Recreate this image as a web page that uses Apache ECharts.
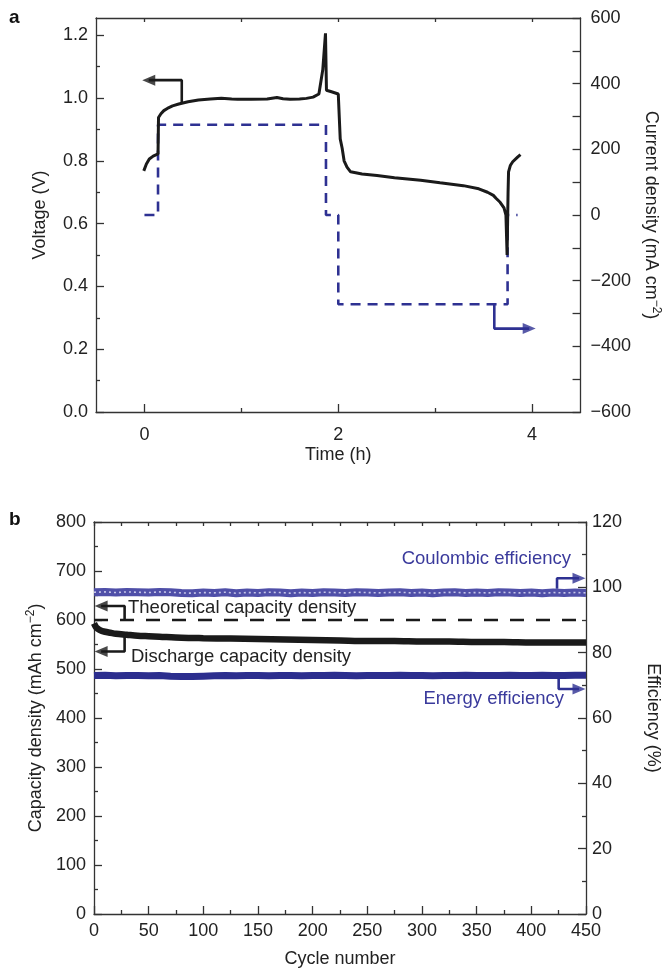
<!DOCTYPE html>
<html>
<head>
<meta charset="utf-8">
<script src="https://cdn.jsdelivr.net/npm/echarts@6/dist/echarts.min.js"></script>
<style>
html,body{margin:0;padding:0;background:#fff;}
#main{width:670px;height:969px;}
</style>
</head>
<body>
<div id="main"></div>
<script>
// ---------- Panel a data ----------
var voltTime = [-0.007, 0.02, 0.05, 0.09, 0.14, 0.145, 0.17, 0.2, 0.236, 0.29, 0.354, 0.45, 0.557, 0.68, 0.793, 0.9, 0.962, 1.1, 1.266, 1.367, 1.43, 1.502, 1.6, 1.671, 1.74, 1.80, 1.84, 1.868, 1.878, 1.93, 2.0, 2.02, 2.04, 2.06, 2.09, 2.127, 2.18, 2.245, 2.4, 2.58, 2.85, 3.05, 3.29, 3.45, 3.54, 3.6, 3.63, 3.67, 3.71, 3.73, 3.742, 3.752, 3.757, 3.775, 3.80, 3.85, 3.88];
var voltage = [0.768, 0.79, 0.806, 0.815, 0.822, 0.938, 0.950, 0.960, 0.967, 0.975, 0.981, 0.988, 0.994, 0.997, 0.999, 0.997, 0.996, 0.996, 0.997, 1.002, 0.998, 0.996, 0.997, 0.999, 1.003, 1.013, 1.09, 1.206, 1.025, 1.02, 1.013, 0.87, 0.84, 0.80, 0.78, 0.765, 0.762, 0.758, 0.753, 0.746, 0.738, 0.73, 0.721, 0.711, 0.700, 0.690, 0.680, 0.668, 0.650, 0.627, 0.50, 0.70, 0.765, 0.785, 0.797, 0.812, 0.82];
var currTime = [0, 0.14, 0.14, 1.873, 1.873, 2.0, 2.0, 3.747, 3.747, 3.85];
var current  = [0, 0, 275, 275, 0, 0, -272, -272, 0, 0];
var timeTicks = [0, 2, 4];
var timeMinorTicks = [1, 3];
var timeTopTicks = [0, 1, 2, 3, 4];
var voltTicks = [0, 0.2, 0.4, 0.6, 0.8, 1.0, 1.2];
var voltMinorTicks = [0.1, 0.3, 0.5, 0.7, 0.9, 1.1];
// annotation arrows (data units)
var voltArrowShaft = [[0.385, 0.985], [0.385, 1.057], [0.044, 1.057]];
var voltArrowHead = [[0.044, 1.057]];
var currArrowShaft = [[3.61, -272], [3.61, -346], [3.97, -346]];
var currArrowHead = [[3.97, -346]];

// ---------- Panel b data ----------
var dischCycle = [0, 2, 5, 10, 15, 20, 30, 40, 50, 60, 80, 100, 125, 150, 175, 200, 225, 250, 275, 300, 325, 350, 375, 400, 425, 450];
var dischCap   = [593, 585, 580, 576, 574, 572, 570, 568, 567, 566, 564, 563, 562, 561, 560, 559, 558, 557, 557, 556, 556, 555, 555, 554, 554, 554];
var theoCycle = [0, 450];
var theoCap = [600, 600];
var effCycle = [0,10,20,30,40,50,60,70,80,90,100,110,120,130,140,150,160,170,180,190,200,210,220,230,240,250,260,270,280,290,300,310,320,330,340,350,360,370,380,390,400,410,420,430,440,450];
var coulombic = [98.5,98.6,98.4,98.6,98.5,98.4,98.6,98.5,98.3,98.2,98.4,98.3,98.5,98.2,98.4,98.3,98.5,98.4,98.2,98.4,98.3,98.5,98.4,98.3,98.5,98.4,98.3,98.4,98.5,98.3,98.4,98.2,98.4,98.5,98.3,98.4,98.3,98.5,98.4,98.3,98.4,98.2,98.4,98.3,98.4,98.3];
var energy = [73.0,73.1,72.9,73.0,73.0,72.9,73.0,72.8,72.7,72.7,72.8,72.9,73.0,72.9,73.0,73.0,72.9,73.0,73.0,72.9,73.0,73.0,73.1,73.0,72.9,73.0,73.0,73.0,73.1,73.0,73.0,72.9,73.0,73.0,73.1,73.0,73.0,73.0,73.1,73.0,73.0,73.1,73.0,73.0,73.1,73.1];
var theoArrowShaft = [[28, 600], [28, 628.5], [6.5, 628.5]];
var dischArrowShaft = [[28, 571], [28, 535.6], [6.5, 535.6]];
var capArrowHeads = [[6.5, 628.5], [6.5, 535.6]];
var coulArrowShaft = [[423.5, 99.6], [423.5, 102.8], [443.6, 102.8]];
var energyArrowShaft = [[425, 72.0], [425, 68.9], [443.6, 68.9]];
var effArrowHeads = [[443.6, 102.8], [443.6, 68.9]];

function zip(a, b) { return a.map(function (v, i) { return [v, b[i]]; }); }

var FONT = 'Liberation Sans';
var TXT = '#222';
var AX = '#333';
var BLACK = '#1a1a1a';
var BLUE = '#2e3192';
var BLUE_TXT = '#3a3a9c';

var lblStyle = { color: TXT, fontSize: 18, fontFamily: FONT };
var axLine = { show: true, onZero: false, lineStyle: { color: AX, width: 1.3 } };
var noLine = { show: false, onZero: false };
var tickStyle = { color: AX, width: 1.3 };

var chart = echarts.init(document.getElementById('main'), null, { renderer: 'canvas' });

var supRich = {
  n: { color: TXT, fontSize: 18, fontFamily: FONT, lineHeight: 22 },
  s: { color: TXT, fontSize: 12, fontFamily: FONT, lineHeight: 22, verticalAlign: 'top', padding: [0, 0, 8, 0] }
};

var option = {
  animation: false,
  backgroundColor: '#fff',
  textStyle: { fontFamily: FONT },
  grid: [
    { left: 96, top: 18, width: 492, height: 394 },
    { left: 94, top: 522, width: 493, height: 393 }
  ],
  xAxis: [
    { // 0: time main
      type: 'value', gridIndex: 0, position: 'bottom', min: -0.5, max: 4.5,
      axisLine: axLine,
      axisTick: { show: true, inside: true, length: 8, customValues: timeTicks, lineStyle: tickStyle },
      axisLabel: Object.assign({ customValues: timeTicks, margin: 14 }, lblStyle),
      splitLine: { show: false },
      name: 'Time (h)', nameLocation: 'middle', nameGap: 34,
      nameTextStyle: lblStyle
    },
    { // 1: time minor ticks
      type: 'value', gridIndex: 0, position: 'bottom', min: -0.5, max: 4.5,
      axisLine: noLine,
      axisTick: { show: true, inside: true, length: 4, customValues: timeMinorTicks, lineStyle: tickStyle },
      axisLabel: { show: false }, splitLine: { show: false }
    },
    { // 2: time top frame
      type: 'value', gridIndex: 0, position: 'top', min: -0.5, max: 4.5,
      axisLine: axLine,
      axisTick: { show: true, inside: true, length: 4, customValues: timeTopTicks, lineStyle: tickStyle },
      axisLabel: { show: false }, splitLine: { show: false }
    },
    { // 3: cycle main
      type: 'value', gridIndex: 1, position: 'bottom', min: 0, max: 450, interval: 50,
      axisLine: axLine,
      axisTick: { show: true, inside: true, length: 8, lineStyle: tickStyle },
      minorTick: { show: true, splitNumber: 2, length: 4, lineStyle: tickStyle },
      axisLabel: Object.assign({ margin: 8 }, lblStyle),
      splitLine: { show: false }, minorSplitLine: { show: false },
      name: 'Cycle number', nameLocation: 'middle', nameGap: 36,
      nameTextStyle: lblStyle
    },
    { // 4: cycle top frame
      type: 'value', gridIndex: 1, position: 'top', min: 0, max: 450, interval: 25,
      axisLine: axLine,
      axisTick: { show: true, inside: true, length: 4, lineStyle: tickStyle },
      axisLabel: { show: false }, splitLine: { show: false }
    }
  ],
  yAxis: [
    { // 0: voltage
      type: 'value', gridIndex: 0, position: 'left', min: 0, max: 1.255,
      axisLine: axLine,
      axisTick: { show: true, inside: true, length: 8, customValues: voltTicks, lineStyle: tickStyle },
      axisLabel: Object.assign({ customValues: voltTicks, margin: 8, formatter: function (v) { return v.toFixed(1); } }, lblStyle),
      splitLine: { show: false },
      name: 'Voltage (V)', nameLocation: 'middle', nameGap: 47, nameRotate: 90,
      nameTextStyle: lblStyle
    },
    { // 1: voltage minor ticks
      type: 'value', gridIndex: 0, position: 'left', min: 0, max: 1.255,
      axisLine: noLine,
      axisTick: { show: true, inside: true, length: 4, customValues: voltMinorTicks, lineStyle: tickStyle },
      axisLabel: { show: false }, splitLine: { show: false }
    },
    { // 2: current density
      type: 'value', gridIndex: 0, position: 'right', min: -600, max: 600, interval: 200,
      axisLine: axLine,
      axisTick: { show: true, inside: true, length: 8, lineStyle: tickStyle },
      minorTick: { show: true, splitNumber: 2, length: 8, lineStyle: tickStyle },
      axisLabel: Object.assign({ margin: 10, formatter: function (v) { return String(v).replace('-', '\u2212'); } }, lblStyle),
      splitLine: { show: false }, minorSplitLine: { show: false },
      name: '{n|Current density (mA cm}{s|\u22122}{n|)}', nameLocation: 'middle', nameGap: 58, nameRotate: -90,
      nameTextStyle: { color: TXT, fontSize: 18, fontFamily: FONT, rich: supRich }
    },
    { // 3: capacity density
      type: 'value', gridIndex: 1, position: 'left', min: 0, max: 800, interval: 100,
      axisLine: axLine,
      axisTick: { show: true, inside: true, length: 8, lineStyle: tickStyle },
      minorTick: { show: true, splitNumber: 2, length: 4, lineStyle: tickStyle },
      axisLabel: Object.assign({ margin: 8 }, lblStyle),
      splitLine: { show: false }, minorSplitLine: { show: false },
      name: '{n|Capacity density (mAh cm}{s|\u22122}{n|)}', nameLocation: 'middle', nameGap: 46, nameRotate: 90,
      nameTextStyle: { color: TXT, fontSize: 18, fontFamily: FONT, rich: supRich }
    },
    { // 4: efficiency
      type: 'value', gridIndex: 1, position: 'right', min: 0, max: 120, interval: 20,
      axisLine: axLine,
      axisTick: { show: true, inside: true, length: 8, lineStyle: tickStyle },
      minorTick: { show: true, splitNumber: 2, length: 4, lineStyle: tickStyle },
      axisLabel: Object.assign({ margin: 6 }, lblStyle),
      splitLine: { show: false }, minorSplitLine: { show: false },
      name: 'Efficiency (%)', nameLocation: 'middle', nameGap: 58, nameRotate: -90,
      nameTextStyle: lblStyle
    }
  ],
  series: [
    { type: 'line', name: 'Current', xAxisIndex: 0, yAxisIndex: 2, data: zip(currTime, current),
      showSymbol: false, symbol: 'none', lineStyle: { color: BLUE, width: 2.6, type: [10, 7] }, silent: true, z: 2 },
    { type: 'line', name: 'Voltage', xAxisIndex: 0, yAxisIndex: 0, data: zip(voltTime, voltage),
      showSymbol: false, symbol: 'none', lineStyle: { color: BLACK, width: 3 }, silent: true, z: 3 },
    { type: 'line', xAxisIndex: 0, yAxisIndex: 0, data: voltArrowShaft, symbol: 'none',
      lineStyle: { color: BLACK, width: 2.6 }, silent: true, z: 4 },
    { type: 'scatter', xAxisIndex: 0, yAxisIndex: 0, data: voltArrowHead, symbol: 'triangle', symbolSize: [11, 13], symbolRotate: 90,
      itemStyle: { color: BLACK }, silent: true, z: 4 },
    { type: 'line', xAxisIndex: 0, yAxisIndex: 2, data: currArrowShaft, symbol: 'none',
      lineStyle: { color: BLUE, width: 2.6 }, silent: true, z: 4 },
    { type: 'scatter', xAxisIndex: 0, yAxisIndex: 2, data: currArrowHead, symbol: 'triangle', symbolSize: [11, 13], symbolRotate: -90,
      itemStyle: { color: BLUE }, silent: true, z: 4 },

    // panel b
    { type: 'line', name: 'Coulombic efficiency', xAxisIndex: 3, yAxisIndex: 4, data: zip(effCycle, coulombic), symbol: 'none',
      lineStyle: { color: '#4f4fa8', width: 8 }, silent: true, z: 2 },
    { type: 'line', xAxisIndex: 3, yAxisIndex: 4, data: zip(effCycle, coulombic), symbol: 'none',
      lineStyle: { color: '#c6c6e8', width: 1.6, type: [2, 3] }, silent: true, z: 3 },
    { type: 'line', name: 'Energy efficiency', xAxisIndex: 3, yAxisIndex: 4, data: zip(effCycle, energy), symbol: 'none',
      lineStyle: { color: '#2c2e8e', width: 7 }, silent: true, z: 2 },
    { type: 'line', name: 'Theoretical capacity density', xAxisIndex: 3, yAxisIndex: 3, data: zip(theoCycle, theoCap), symbol: 'none',
      lineStyle: { color: BLACK, width: 2.6, type: [14, 12] }, silent: true, z: 2 },
    { type: 'line', name: 'Discharge capacity density', xAxisIndex: 3, yAxisIndex: 3, data: zip(dischCycle, dischCap), symbol: 'none',
      smooth: 0.3, lineStyle: { color: BLACK, width: 6.5 }, silent: true, z: 3 },
    { type: 'line', xAxisIndex: 3, yAxisIndex: 3, data: theoArrowShaft, symbol: 'none', lineStyle: { color: BLACK, width: 2.6 }, silent: true, z: 4 },
    { type: 'line', xAxisIndex: 3, yAxisIndex: 3, data: dischArrowShaft, symbol: 'none', lineStyle: { color: BLACK, width: 2.6 }, silent: true, z: 4 },
    { type: 'scatter', xAxisIndex: 3, yAxisIndex: 3, data: capArrowHeads, symbol: 'triangle', symbolSize: [11, 13], symbolRotate: 90,
      itemStyle: { color: BLACK }, silent: true, z: 4 },
    { type: 'line', xAxisIndex: 3, yAxisIndex: 4, data: coulArrowShaft, symbol: 'none', lineStyle: { color: BLUE, width: 2.6 }, silent: true, z: 4 },
    { type: 'line', xAxisIndex: 3, yAxisIndex: 4, data: energyArrowShaft, symbol: 'none', lineStyle: { color: BLUE, width: 2.6 }, silent: true, z: 4 },
    { type: 'scatter', xAxisIndex: 3, yAxisIndex: 4, data: effArrowHeads, symbol: 'triangle', symbolSize: [11, 13], symbolRotate: -90,
      itemStyle: { color: BLUE }, silent: true, z: 4 }
  ],
  graphic: [
    { type: 'text', left: 9, top: 8, style: { text: 'a', fontSize: 19, fontWeight: 'bold', fontFamily: FONT, fill: '#111' } },
    { type: 'text', left: 9, top: 510, style: { text: 'b', fontSize: 19, fontWeight: 'bold', fontFamily: FONT, fill: '#111' } },
    { type: 'text', x: 571, y: 559, style: { text: 'Coulombic efficiency', fontSize: 18.5, fontFamily: FONT, fill: BLUE_TXT, align: 'right', verticalAlign: 'middle' } },
    { type: 'text', x: 128, y: 608, style: { text: 'Theoretical capacity density', fontSize: 18.5, fontFamily: FONT, fill: TXT, align: 'left', verticalAlign: 'middle' } },
    { type: 'text', x: 131, y: 657, style: { text: 'Discharge capacity density', fontSize: 18.5, fontFamily: FONT, fill: TXT, align: 'left', verticalAlign: 'middle' } },
    { type: 'text', x: 564, y: 699, style: { text: 'Energy efficiency', fontSize: 18.5, fontFamily: FONT, fill: BLUE_TXT, align: 'right', verticalAlign: 'middle' } }
  ]
};
chart.setOption(option);
</script>
</body>
</html>
